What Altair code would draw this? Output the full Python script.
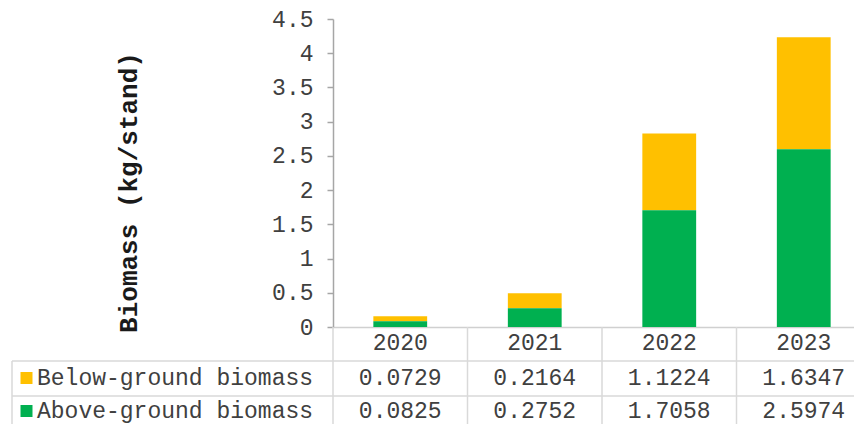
import altair as alt
import pandas as pd

# ---- data ----
years = ["2020", "2021", "2022", "2023"]
below = [0.0729, 0.2164, 1.1224, 1.6347]
above = [0.0825, 0.2752, 1.7058, 2.5974]
series = ["Below-ground biomass", "Above-ground biomass"]
colors = ["#FFC000", "#00B050"]
y_ticks = [0, 0.5, 1, 1.5, 2, 2.5, 3, 3.5, 4, 4.5]
y_title = "Biomass (kg/stand)"

rows = []
for i, yr in enumerate(years):
    rows.append({"year": yr, "series": series[0], "value": below[i], "order": 2,
                 "label": f"{below[i]:.4f}"})
    rows.append({"year": yr, "series": series[1], "value": above[i], "order": 1,
                 "label": f"{above[i]:.4f}"})
df = pd.DataFrame(rows)
df_years = pd.DataFrame({"year": years})
df_series = pd.DataFrame({"series": series})

# ---- style ----
FONT = "Liberation Mono"
FS = 23
TXT = "#404040"
GRID = "#d9d9d9"
W, H, RANGE = 521, 308, 538
ROW1, ROW2 = H + 51, H + 84

xscale = alt.Scale(domain=years, range=[0, RANGE], paddingInner=0, paddingOuter=0)
color = alt.Color("series:N", scale=alt.Scale(domain=series, range=colors), legend=None)

bars = alt.Chart(df).mark_bar(width=alt.RelativeBandSize(0.4)).encode(
    x=alt.X("year:N", scale=xscale,
            axis=alt.Axis(labels=False, ticks=False, title=None,
                          domainColor="#d0d0d0", domainWidth=1.5)),
    y=alt.Y("value:Q", stack="zero", scale=alt.Scale(domain=[0, 4.5], nice=False),
            axis=alt.Axis(values=y_ticks, format="~g", grid=False,
                          domainColor="#a6a6a6", domainWidth=1.5,
                          tickColor="#a6a6a6", tickWidth=1.5, tickSize=6,
                          labelFont=FONT, labelFontSize=FS, labelColor=TXT,
                          labelPadding=14,
                          title=y_title, titleFont=FONT, titleFontSize=26,
                          titleFontWeight="bold", titleColor="#1a1a1a",
                          titleAngle=270, titleAlign="center", titleBaseline="middle",
                          titleX=-205, titleY=173)),
    color=color,
    order=alt.Order("order:Q", sort="ascending"),
)

# table grid lines
vlines = alt.Chart(df_years).mark_rule(color=GRID, strokeWidth=1.5).encode(
    x=alt.X("year:N", scale=xscale, bandPosition=0),
    y=alt.value(H), y2=alt.value(H + 115),
)
left_border = alt.Chart(df_years.head(1)).mark_rule(color=GRID, strokeWidth=1.5).encode(
    x=alt.value(-321), y=alt.value(H + 34), y2=alt.value(H + 115),
)
hline1 = alt.Chart(df_years.head(1)).mark_rule(color=GRID, strokeWidth=1.5).encode(
    x=alt.value(-321), x2=alt.value(RANGE), y=alt.value(H + 34),
)
hline2 = alt.Chart(df_years.head(1)).mark_rule(color=GRID, strokeWidth=1.5).encode(
    x=alt.value(-321), x2=alt.value(RANGE), y=alt.value(H + 69),
)

header = alt.Chart(df_years).mark_text(font=FONT, fontSize=FS, color=TXT,
                                       baseline="middle").encode(
    x=alt.X("year:N", scale=xscale), y=alt.value(H + 16), text="year:N",
)

layers = [vlines, left_border, hline1, hline2, bars, header]
for s, yy in zip(series, [ROW1, ROW2]):
    vals = alt.Chart(df).transform_filter(alt.datum.series == s).mark_text(
        font=FONT, fontSize=FS, color=TXT, baseline="middle").encode(
        x=alt.X("year:N", scale=xscale), y=alt.value(yy), text="label:N")
    lab = alt.Chart(df_series).transform_filter(alt.datum.series == s).mark_text(
        font=FONT, fontSize=FS, color=TXT, baseline="middle", align="left").encode(
        x=alt.value(-296), y=alt.value(yy), text="series:N")
    sw = alt.Chart(df_series).transform_filter(alt.datum.series == s).mark_square(
        size=144, opacity=1, filled=True).encode(
        x=alt.value(-306.5), y=alt.value(yy), color=color)
    layers += [vals, lab, sw]

chart = alt.layer(*layers).properties(
    width=W, height=H,
    autosize=alt.AutoSizeParams(type="none"),
    padding={"left": 325, "top": 11, "right": 0, "bottom": 97},
    background="white",
).configure_view(stroke=None)

chart.save("out.html", embed_options={"renderer": "svg", "actions": False})
